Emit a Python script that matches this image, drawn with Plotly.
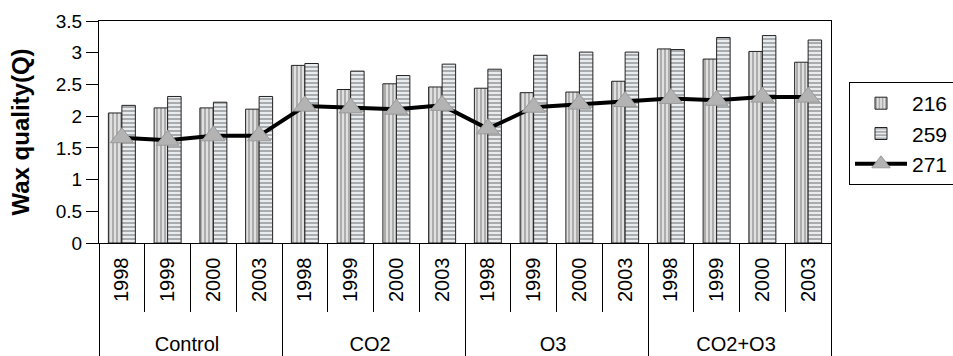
import plotly.graph_objects as go

groups = ["Control", "CO2", "O3", "CO2+O3"]
years = ["1998", "1999", "2000", "2003"]

s216 = [2.05, 2.13, 2.13, 2.11, 2.80, 2.42, 2.51, 2.46, 2.44, 2.37, 2.38, 2.55, 3.06, 2.90, 3.02, 2.85]
s259 = [2.17, 2.31, 2.22, 2.31, 2.83, 2.71, 2.64, 2.82, 2.74, 2.96, 3.01, 3.01, 3.05, 3.24, 3.27, 3.20]
s271 = [1.66, 1.62, 1.69, 1.69, 2.16, 2.13, 2.11, 2.17, 1.80, 2.14, 2.19, 2.23, 2.28, 2.25, 2.30, 2.30]

NB = "\u00a0"
xg = [g for g in groups for _ in years]
xy = [NB * 2 + y + NB for _ in groups for y in years]
x = [xg, xy]

FONT = "Liberation Sans, Arial, sans-serif"

fig = go.Figure()
fig.add_trace(go.Bar(
    x=x, y=s216, name="216",
    marker=dict(color="#d9d9d9", line=dict(color="#222", width=1),
                pattern=dict(shape="|", fgcolor="#333", bgcolor="#e0e0e0", size=4, solidity=0.3)),
))
fig.add_trace(go.Bar(
    x=x, y=s259, name="259",
    marker=dict(color="#e6e6e6", line=dict(color="#222", width=1),
                pattern=dict(shape="-", fgcolor="#333", bgcolor="#e8ecef", size=4, solidity=0.35)),
))
fig.add_trace(go.Scatter(
    x=x, y=s271, name="271", mode="lines+markers",
    line=dict(color="black", width=4),
    marker=dict(symbol="triangle-up", size=20, color="#b3b3b3", line=dict(color="#9a9a9a", width=1)),
))

fig.update_layout(
    width=953, height=356,
    margin=dict(l=99, r=122, t=21, b=113, autoexpand=False),
    paper_bgcolor="white", plot_bgcolor="white",
    font=dict(family=FONT, size=16, color="black"),
    barmode="group", bargap=0.41, bargroupgap=0,
    legend=dict(x=1.0246, y=0.725, xanchor="left", yanchor="top",
                bordercolor="black", borderwidth=1, bgcolor="white",
                font=dict(size=21), itemwidth=52, tracegroupgap=0),
    showlegend=True,
)
fig.update_yaxes(range=[0, 3.5], dtick=0.5, ticks="outside", ticklen=12, tickcolor="black",
                 showline=True, linecolor="black", mirror=True, showgrid=False,
                 tickfont=dict(size=19),
                 title=dict(text="<b>Wax quality(Q)</b>", font=dict(size=24), standoff=19))
fig.update_xaxes(type="multicategory", range=[-0.5, 15.5],
                 showline=True, linecolor="black", mirror=True,
                 ticks="outside", ticklen=68, tickcolor="black", tickangle=-90,
                 showdividers=True, dividercolor="black", dividerwidth=1,
                 tickfont=dict(size=20), showgrid=False)

fig.write_html("out.html", post_script="document.body.style.margin='0';",
               config={"displayModeBar": False})
